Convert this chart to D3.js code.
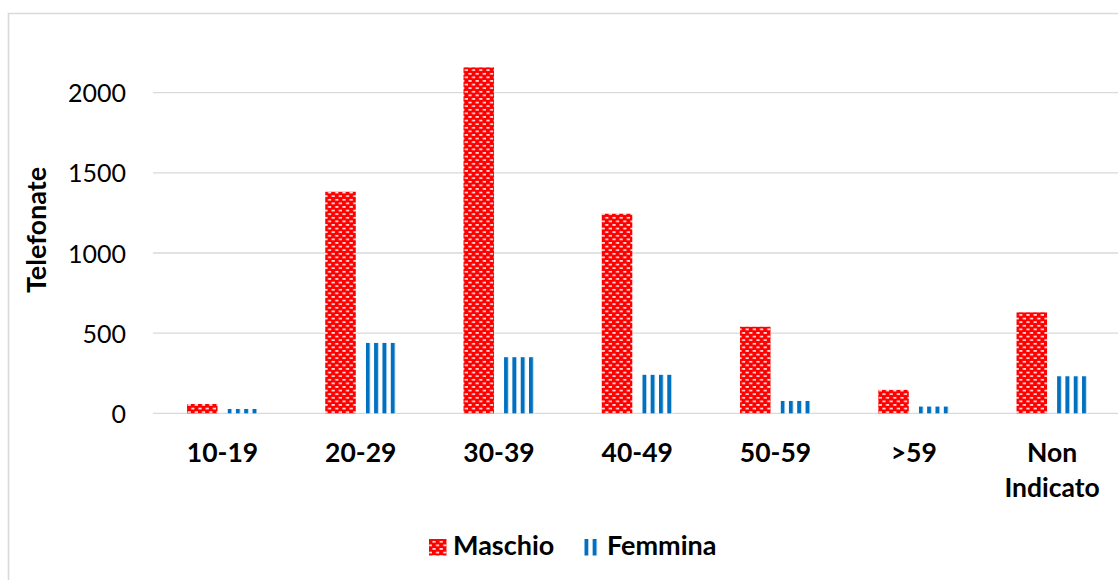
<!DOCTYPE html>
<html>
<head>
<meta charset="utf-8">
<script src="https://cdn.jsdelivr.net/npm/d3@7"></script>
<style>
  html, body { margin: 0; padding: 0; background: #ffffff; }
  svg { display: block; }
  text { font-family: Lato, "Open Sans", sans-serif; fill: #000; }
</style>
</head>
<body>
<svg id="chart" width="1118" height="580"></svg>
<script>
const categories = ["10-19", "20-29", "30-39", "40-49", "50-59", ">59", "Non Indicato"];
const seriesNames = ["Maschio", "Femmina"];
const maschio = [58, 1382, 2158, 1245, 540, 146, 630];
const femmina = [27, 439, 350, 240, 77, 42, 231];
const yTicks = [0, 500, 1000, 1500, 2000];
const yTitle = "Telefonate";

const W = 1118, H = 580;
const svg = d3.select("#chart");

const x0 = d3.scaleBand().domain(categories).range([153.4, 1121.2]).padding(0);
const x1 = d3.scaleBand().domain(seriesNames).range([33.6, x0.bandwidth() - 33.6]).paddingInner(0.247);
const y = d3.scaleLinear().domain([0, 2000]).range([413.3, 92.7]);

// patterns
const defs = svg.append("defs");
const PW = 7.2, PH = 7.2;
const pm = defs.append("pattern").attr("id", "patM")
  .attr("patternUnits", "userSpaceOnUse").attr("width", PW).attr("height", PH);
pm.append("rect").attr("width", PW).attr("height", PH).attr("fill", "#FF0000");
pm.append("rect").attr("x", 0.4).attr("y", 1.0).attr("width", 3.2).attr("height", 1.5).attr("fill", "#ffffff");
pm.append("rect").attr("x", 4.0).attr("y", 4.6).attr("width", 3.2).attr("height", 1.5).attr("fill", "#ffffff");

const P = 8.33;
function stripePattern(id, x0pos) {
  const p = defs.append("pattern").attr("id", id)
    .attr("patternUnits", "userSpaceOnUse").attr("x", x0pos).attr("width", P).attr("height", P);
  p.append("rect").attr("width", P).attr("height", P).attr("fill", "#ffffff");
  p.append("rect").attr("x", 0).attr("y", 0).attr("width", 4.0).attr("height", P).attr("fill", "#0070C0");
}
categories.forEach((c, i) => stripePattern("patF" + i, x0(c) + x1("Femmina")));
stripePattern("patFL", 584.3);

// frame
svg.append("path")
  .attr("d", `M8.5,${H + 5} L8.5,13.5 L${W + 5},13.5`)
  .attr("fill", "none").attr("stroke", "#d9d9d9").attr("stroke-width", 1.6);

// gridlines
svg.append("g").selectAll("line").data(yTicks).join("line")
  .attr("x1", 153).attr("x2", W)
  .attr("y1", d => y(d)).attr("y2", d => y(d))
  .attr("stroke", "#d9d9d9").attr("stroke-width", 1.3);

// y axis labels
const yAxis = d3.axisLeft(y).tickValues(yTicks).tickSize(0).tickPadding(0).tickFormat(d3.format("d"));
const gy = svg.append("g").attr("transform", "translate(126,0)").call(yAxis);
gy.select(".domain").remove();
gy.selectAll("text").attr("font-size", 25).attr("font-family", "Lato, sans-serif").attr("fill", "#000").attr("dy", "0.36em");

// y title
svg.append("text")
  .attr("transform", `translate(46,230) rotate(-90)`)
  .attr("text-anchor", "middle")
  .attr("font-size", 27).attr("font-weight", "bold")
  .text(yTitle);

// bars
const rows = [];
categories.forEach((c, i) => {
  rows.push({ cat: c, i, s: "Maschio", v: maschio[i] });
  rows.push({ cat: c, i, s: "Femmina", v: femmina[i] });
});
svg.append("g").selectAll("rect").data(rows).join("rect")
  .attr("x", d => x0(d.cat) + x1(d.s))
  .attr("width", x1.bandwidth())
  .attr("y", d => y(d.v))
  .attr("height", d => y(0) - y(d.v))
  .attr("fill", d => d.s === "Maschio" ? "url(#patM)" : `url(#patF${d.i})`);

// x axis labels
const gx = svg.append("g");
categories.forEach(c => {
  const cx = x0(c) + x0.bandwidth() / 2;
  const words = c.split(" ");
  const t = gx.append("text").attr("text-anchor", "middle").attr("font-size", 26.5).attr("font-weight", "bold");
  words.forEach((w, j) => {
    t.append("tspan").attr("x", cx).attr("y", 461.5 + j * 35).text(w);
  });
});

// legend
const lg = svg.append("g");
lg.append("rect").attr("x", 429).attr("y", 539).attr("width", 17.5).attr("height", 16.5).attr("fill", "url(#patM)");
lg.append("text").attr("x", 453).attr("y", 555).attr("font-size", 27).attr("font-weight", "bold").text(seriesNames[0]);
lg.append("rect").attr("x", 584.3).attr("y", 539).attr("width", 15).attr("height", 16.5).attr("fill", "url(#patFL)");
lg.append("text").attr("x", 607).attr("y", 555).attr("font-size", 27).attr("font-weight", "bold").text(seriesNames[1]);
</script>
</body>
</html>
